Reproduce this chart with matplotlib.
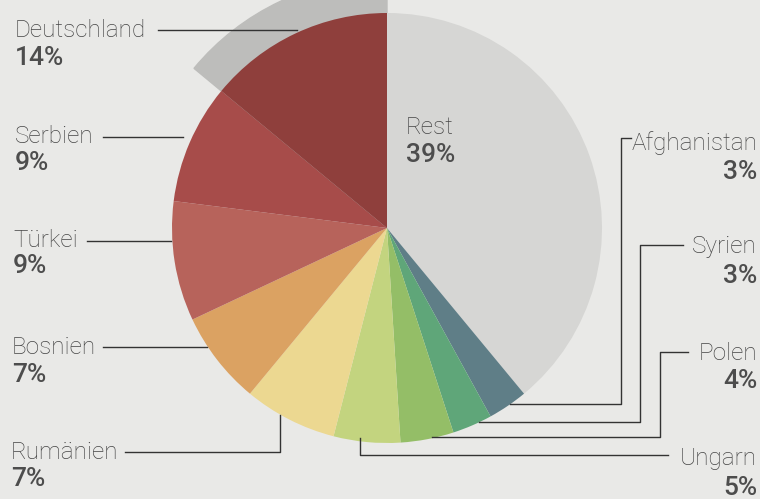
import matplotlib.pyplot as plt
from matplotlib.patches import Wedge

# shares of origin, clockwise from 12 o'clock
countries = ['Rest', 'Afghanistan', 'Syrien', 'Polen', 'Ungarn',
             'Rumänien', 'Bosnien', 'Türkei', 'Serbien', 'Deutschland']
shares = [39, 3, 3, 4, 5, 7, 7, 9, 9, 14]
colors = ['#d6d6d4', '#5f7e87', '#5fa679', '#94be67', '#c3d47f',
          '#ecd891', '#dba262', '#b7635b', '#a74c4a', '#8f3f3c']

H = 499
def Y(y):
    return H - y

plt.rcParams['font.family'] = ['Roboto', 'DejaVu Sans']
bg = '#e9e9e7'
fig = plt.figure(figsize=(7.6, 4.99), dpi=100, facecolor=bg)
ax = fig.add_axes([0, 0, 1, 1])
ax.set_facecolor(bg)

cx, cy, r = 387, Y(228), 215
wedges, _ = ax.pie(shares, colors=colors, startangle=90, counterclock=False,
                   radius=r, center=(cx, cy), wedgeprops=dict(linewidth=0))
# grey band behind the Deutschland slice
d = wedges[-1]
ax.add_patch(Wedge((cx, cy), r * 1.165, d.theta1, d.theta2, color='#bdbdbb', zorder=0))

ax.set_xlim(0, 760)
ax.set_ylim(0, H)
ax.set_aspect('equal')
ax.axis('off')

# label layout (pixel positions): name pos, pct pos, leader line
layout = {
    'Rest':        ('left', 406, 127, 155, None),
    'Afghanistan': ('right', 757, 143, 172, [(631, 138), (621, 138), (621, 404), (510, 404)]),
    'Syrien':      ('right', 757, 246, 276, [(683, 245), (640, 245), (640, 422), (479, 422)]),
    'Polen':       ('right', 757, 353, 381, [(688, 352), (660, 352), (660, 437), (432, 437)]),
    'Ungarn':      ('right', 757, 459, 488, [(668, 455), (360, 455), (360, 438)]),
    'Rumänien':    ('left', 11, 452, 479, [(125, 452), (280, 452), (280, 415)]),
    'Bosnien':     ('left', 12, 347, 375, [(103, 347), (207, 347)]),
    'Türkei':      ('left', 13, 240, 266, [(87, 241), (171, 241)]),
    'Serbien':     ('left', 15, 136, 163, [(103, 137), (183, 137)]),
    'Deutschland': ('left', 15, 30, 58, [(158, 30), (297, 30)]),
}

for name, val in zip(countries, shares):
    ha, x, yn, yp, line = layout[name]
    ax.text(x, Y(yn), name, ha=ha, va='center', fontsize=17.5,
            fontweight='light', color='#454545', zorder=5)
    ax.text(x, Y(yp), f'{val}%', ha=ha, va='center', fontsize=19,
            fontweight='medium', color='#4d4d4d', zorder=5)
    if line:
        xs = [p[0] for p in line]
        ys = [Y(p[1]) for p in line]
        ax.plot(xs, ys, color='#333333', lw=1.0, zorder=4)

fig.savefig('out.png', dpi=100, facecolor=bg)
